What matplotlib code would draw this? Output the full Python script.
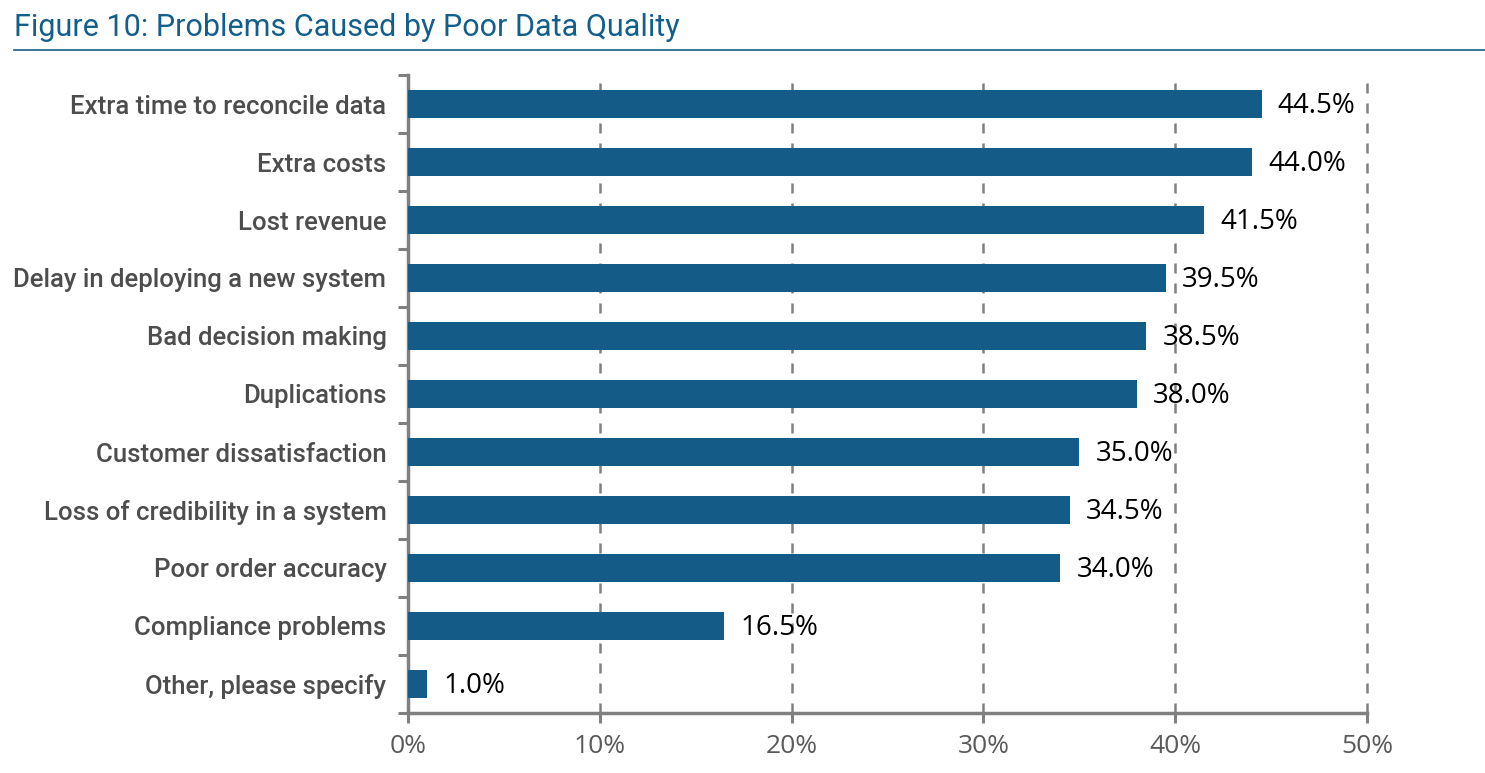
import matplotlib.pyplot as plt
from matplotlib.ticker import FixedLocator

# Datos del grafico
categorias = ['Extra time to reconcile data', 'Extra costs', 'Lost revenue',
              'Delay in deploying a new system', 'Bad decision making', 'Duplications',
              'Customer dissatisfaction', 'Loss of credibility in a system',
              'Poor order accuracy', 'Compliance problems', 'Other, please specify']
valores = [44.5, 44.0, 41.5, 39.5, 38.5, 38.0, 35.0, 34.5, 34.0, 16.5, 1.0]
ticks_x = [0, 10, 20, 30, 40, 50]

azul = '#155b87'
gris = '#808080'
plt.rcParams['font.family'] = ['Roboto', 'DejaVu Sans']

fig = plt.figure(figsize=(14.85, 7.73), dpi=100)
ax = fig.add_axes([408 / 1485, 1 - 713 / 773, (1367 - 408) / 1485, (713 - 75) / 773])

pos = list(range(len(categorias)))
ax.barh(pos, valores, height=0.49, color=azul, zorder=3)
for y, v in zip(pos, valores):
    ax.text(v + 0.85, y + 0.03, f'{v:.1f}%', va='center', ha='left', fontsize=20,
            color='black', family=['Open Sans', 'DejaVu Sans'])

ax.set_xlim(0, 50)
ax.set_ylim(len(categorias) - 0.5, -0.5)
ax.set_xticks(ticks_x)
ax.set_xticklabels([f'{t}%' for t in ticks_x], fontsize=19, color='#595959',
                   family=['Open Sans', 'DejaVu Sans'])
ax.set_yticks(pos)
ax.set_yticklabels(categorias, fontsize=18.5, color='#4d4d4d', fontweight='medium')
ax.yaxis.set_minor_locator(FixedLocator([p - 0.5 for p in pos] + [len(pos) - 0.5]))
ax.tick_params(axis='y', which='major', length=0, pad=15.5)
ax.tick_params(axis='y', which='minor', length=7, width=2.2, color=gris, direction='out')
ax.tick_params(axis='x', length=7, width=2.2, color=gris, pad=8)

ax.grid(axis='x', linestyle=(0, (4, 4)), color=gris, linewidth=1.8, zorder=0)
for linea in ax.get_xgridlines():
    linea.set_clip_on(False)
for lado in ['top', 'right']:
    ax.spines[lado].set_visible(False)
for lado in ['left', 'bottom']:
    ax.spines[lado].set_color(gris)
    ax.spines[lado].set_linewidth(2.5)

fig.text(14 / 1485, 1 - 27 / 773, 'Figure 10: Problems Caused by Poor Data Quality',
         fontsize=22, color='#135f8c', va='center', ha='left')
fig.add_artist(plt.Line2D([14 / 1485, 1], [1 - 50 / 773, 1 - 50 / 773],
                          color='#1a5e8a', linewidth=1.2))

fig.savefig('out.png', dpi=100)
